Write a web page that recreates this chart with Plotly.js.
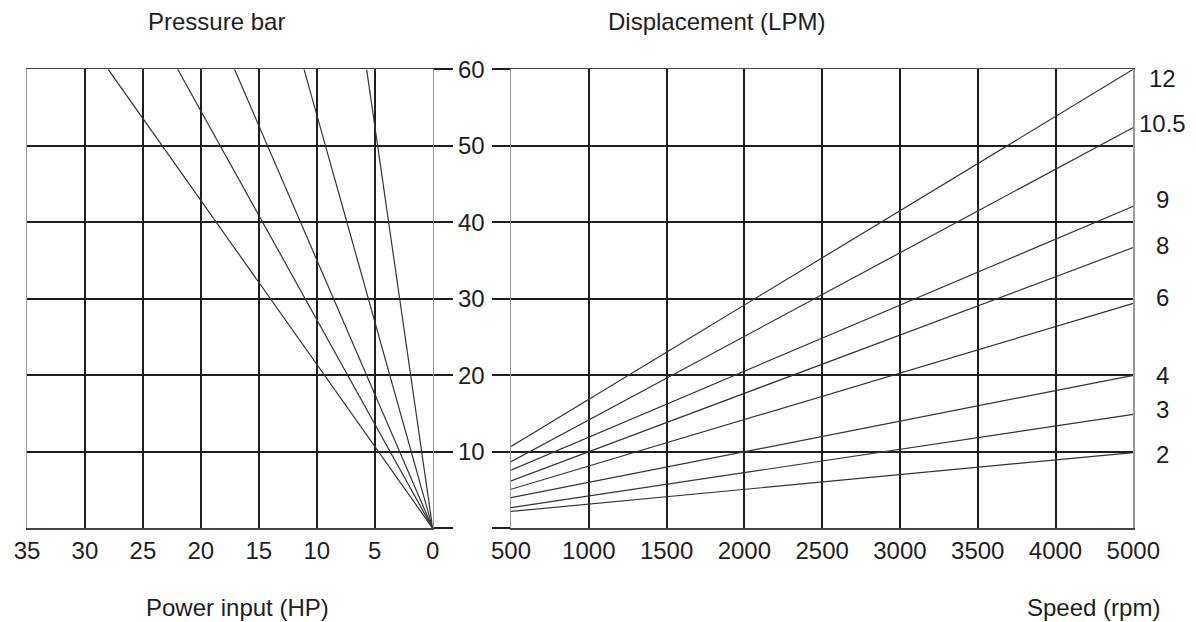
<!DOCTYPE html>
<html>
<head>
<meta charset="utf-8">
<script src="https://cdn.plot.ly/plotly-3.0.1.min.js"></script>
<style>html,body{margin:0;padding:0;background:#fff;}#chart{width:1196px;height:622px;}</style>
</head>
<body>
<div id="chart"></div>
<script>
// ---- data ----
// Left panel: pressure (bar) vs power input (HP); each line starts at the origin
const pressureLineHP = [28, 22, 17.1, 11.1, 5.7];   // HP reached at 60 bar
const pressureLineTop = [60, 60, 60, 60, 60];
const hpTicks = [35, 30, 25, 20, 15, 10, 5, 0];
const pressureTicks = [0, 10, 20, 30, 40, 50, 60];

// Right panel: displacement (LPM) vs speed (rpm), one line per pump size
const pumpSizes = ['2', '3', '4', '6', '8', '9', '10.5', '12'];
const lpmAt500 = [2.2, 2.7, 4.0, 5.1, 6.2, 7.6, 8.7, 10.7];
const lpmAt5000 = [9.9, 14.9, 20.0, 29.4, 36.7, 42.1, 52.4, 60.0];
const speedTickLabels = ['500', '1000', '1500', '2000', '2500', '3000', '3500', '4000', '5000'];

// ---- styles ----
const FONT = 'Liberation Sans, Arial, Helvetica, sans-serif';
const INK = '#1e1e1e';
const LINE = '#333';
const FS = 24;
const labelNudge = [-2, 5, 0, 6, 2, 7, 4, -9]; // px upward, pump-size label offsets

const traces = [];
pressureLineHP.forEach((hp, i) => {
  traces.push({
    type: 'scatter', mode: 'lines', xaxis: 'x', yaxis: 'y',
    x: [0, hp], y: [0, pressureLineTop[i]],
    line: {color: LINE, width: 1.2}, hoverinfo: 'skip', showlegend: false
  });
});
const speedIdx = speedTickLabels.map((_, i) => i);
pumpSizes.forEach((s, i) => {
  traces.push({
    type: 'scatter', mode: 'lines', xaxis: 'x2', yaxis: 'y2',
    x: [speedIdx[0], speedIdx[speedIdx.length - 1]], y: [lpmAt500[i], lpmAt5000[i]],
    line: {color: LINE, width: 1.2}, hoverinfo: 'skip', showlegend: false, name: s
  });
});

const W = 1196, H = 622;
const annotations = [
  {text: 'Pressure bar', x: 216 / W, y: 1 - 22 / H},
  {text: 'Displacement (LPM)', x: 716 / W, y: 1 - 22 / H},
  {text: 'Power input (HP)', x: 237 / W, y: 1 - 607 / H},
  {text: 'Speed (rpm)', x: 1093 / W, y: 1 - 607 / H}
].map(a => ({
  text: a.text, xref: 'paper', yref: 'paper', x: a.x, y: a.y,
  xanchor: 'center', yanchor: 'middle', showarrow: false,
  font: {family: FONT, size: FS, color: INK}
}));
pumpSizes.forEach((s, i) => {
  annotations.push({
    text: s, xref: 'paper', yref: 'y2', x: 1162 / W, y: lpmAt5000[i],
    xanchor: 'center', yanchor: 'middle', yshift: labelNudge[i], showarrow: false,
    font: {family: FONT, size: FS, color: INK}
  });
});

const gridCommon = {gridcolor: INK, gridwidth: 2, zeroline: false, fixedrange: true};
const tf = {family: FONT, size: FS, color: INK};
const layout = {
  width: W, height: H,
  margin: {l: 0, r: 0, t: 0, b: 0},
  paper_bgcolor: '#fff', plot_bgcolor: '#fff',
  showlegend: false,
  font: {family: FONT, size: FS, color: INK},
  xaxis: Object.assign({}, gridCommon, {
    domain: [27 / W, 432.7 / W], anchor: 'y',
    range: [35, 0], tickvals: hpTicks, ticks: '',
    showline: true, mirror: true, linecolor: '#444', linewidth: 1.8,
    tickfont: tf
  }),
  yaxis: Object.assign({}, gridCommon, {
    domain: [1 - 528.3 / H, 1 - 69.3 / H], anchor: 'x', side: 'right',
    range: [0, 60], tickvals: pressureTicks,
    ticktext: pressureTicks.map(v => v === 0 ? '' : String(v)),
    ticks: 'outside', ticklen: 19, tickwidth: 2, tickcolor: INK,
    showline: true, mirror: true, linecolor: '#999', linewidth: 1.5,
    tickfont: tf
  }),
  xaxis2: Object.assign({}, gridCommon, {
    domain: [511 / W, 1133.3 / W], anchor: 'y2',
    range: [0, speedTickLabels.length - 1], tickvals: speedIdx, ticktext: speedTickLabels, ticks: '',
    showline: true, mirror: true, linecolor: '#444', linewidth: 1.8,
    tickfont: tf
  }),
  yaxis2: Object.assign({}, gridCommon, {
    domain: [1 - 528.3 / H, 1 - 69.3 / H], anchor: 'x2', side: 'left',
    range: [0, 60], tickvals: pressureTicks, showticklabels: false,
    ticks: 'outside', ticklen: 18, tickwidth: 2, tickcolor: INK,
    showline: true, mirror: true, linecolor: '#999', linewidth: 1.5
  }),
  annotations: annotations
};

Plotly.newPlot('chart', traces, layout, {staticPlot: true, displayModeBar: false});
</script>
</body>
</html>
